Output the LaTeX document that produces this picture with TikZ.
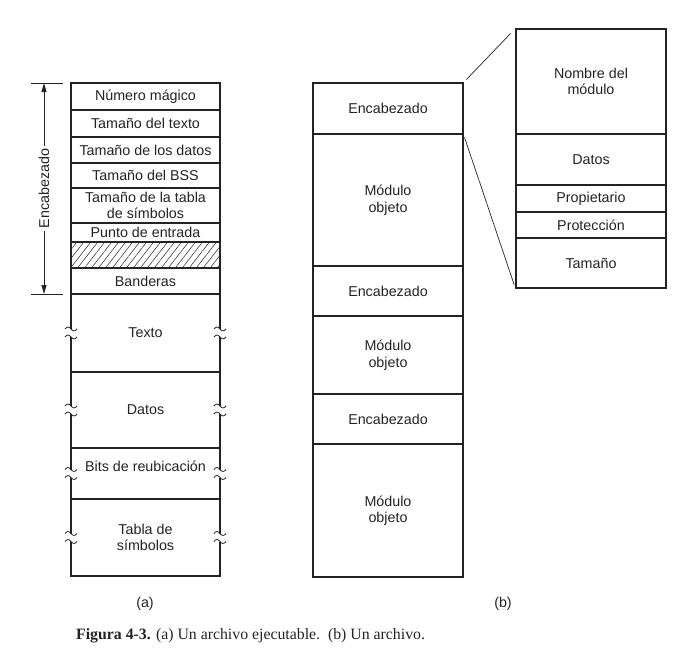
\documentclass[tikz,border=0pt]{standalone}
\usepackage{fontspec}
\newfontfamily\helv{Liberation Sans}
\newfontfamily\tms{Liberation Serif}
\usetikzlibrary{arrows.meta,calc,patterns.meta}
\definecolor{inkgray}{RGB}{35,35,35}
\newcommand{\cellfont}{\helv\fontsize{14.3}{16.5}\selectfont}
\newcommand{\capfont}{\tms\fontsize{15.8}{18}\selectfont}
% break mark (two tildes) cut into a column edge at (#1,#2)
\newcommand{\brkmark}[2]{%
  \fill[white] (#1-2.5,#2-4) rectangle (#1+2.5,#2+4);
  \draw[brk] (#1-6,#2-4) sin (#1-3,#2-6) cos (#1,#2-4) sin (#1+3,#2-2) cos (#1+6,#2-4);
  \draw[brk] (#1-6,#2+4) sin (#1-3,#2+2) cos (#1,#2+4) sin (#1+3,#2+6) cos (#1+6,#2+4);}

\begin{document}
\begin{tikzpicture}[x=1pt, y=-1pt,
    cell/.style={draw=inkgray, line width=1.1pt, inner sep=0pt, align=center, font=\cellfont, text=inkgray},
    colA/.style={cell, minimum width=149},
    colB/.style={cell, minimum width=150},
    brk/.style={inkgray, line width=0.8pt},
    zoomline/.style={inkgray, line width=0.7pt},
    dimarrow/.style={inkgray, line width=0.8pt, {Triangle[length=9pt,width=5pt]}-{Triangle[length=9pt,width=5pt]}},
    tag/.style={font=\cellfont, text=inkgray}]
  \useasboundingbox (0,0) rectangle (682,662);
  % --- (a) executable file ---
  \node[colA, minimum height=27] (numero) at (145.5,96.5) {Número mágico};
  \node[colA, minimum height=27] (tamTexto) at (145.5,123.5) {Tamaño del texto};
  \node[colA, minimum height=26] (tamDatos) at (145.5,150) {Tamaño de los datos};
  \node[colA, minimum height=25] (tamBss) at (145.5,175.5) {Tamaño del BSS};
  \node[colA, minimum height=35] (tamTabla) at (145.5,205.5) {Tamaño de la tabla\\de símbolos};
  \node[colA, minimum height=19] (entrada) at (145.5,232.5) {Punto de entrada};
  \node[colA, minimum height=26, pattern={Lines[angle=52,distance=5.5pt,line width=0.5pt]}, pattern color=inkgray] (relleno) at (145.5,255) {};
  \node[colA, minimum height=26] (banderas) at (145.5,281) {Banderas};
  \node[colA, minimum height=78] (texto) at (145.5,333) {Texto};
  \node[colA, minimum height=76] (datos) at (145.5,410) {Datos};
  \node[colA, minimum height=51] (bits) at (145.5,473.5) {};
  \node[tag] (bitsLbl) at (145.5,466) {Bits de reubicación};
  \node[colA, minimum height=77] (tabla) at (145.5,537.5) {Tabla de\\símbolos};
  % --- break marks on both edges ---
  \foreach \yy in {333,410,473.5,537.5} {
    \brkmark{71}{\yy}
    \brkmark{220}{\yy}
  }
  % --- header span ---
  \coordinate (tickTopL) at (31,83); \coordinate (tickTopR) at (63,83);
  \coordinate (tickBotL) at (31,294); \coordinate (tickBotR) at (63,294);
  \coordinate (hdrTop) at (44,83); \coordinate (hdrBot) at (44,294);
  \draw[zoomline] (tickTopL) -- (tickTopR);
  \draw[zoomline] (tickBotL) -- (tickBotR);
  \draw[dimarrow] (hdrTop) -- node[fill=white, rotate=90, inner sep=3pt, font=\cellfont, text=inkgray] (hdrLbl) {Encabezado} (hdrBot);
  % --- (b) archive ---
  \node[colB, minimum height=51] (encA) at (388,108.5) {Encabezado};
  \node[colB, minimum height=132] (modA) at (388,200) {Módulo\\objeto};
  \node[colB, minimum height=50] (encB) at (388,291) {Encabezado};
  \node[colB, minimum height=78] (modB) at (388,355) {Módulo\\objeto};
  \node[colB, minimum height=50] (encC) at (388,419) {Encabezado};
  \node[colB, minimum height=133] (modC) at (388,510.5) {Módulo\\objeto};
  % --- module header detail ---
  \node[colB, minimum height=105] (nombre) at (591,81.5) {Nombre del\\módulo};
  \node[colB, minimum height=51] (datosMod) at (591,159.5) {Datos};
  \node[colB, minimum height=27] (propietario) at (591,198.5) {Propietario};
  \node[colB, minimum height=26] (proteccion) at (591,225) {Protección};
  \node[colB, minimum height=50] (tamano) at (591,263) {Tamaño};
  \draw[zoomline, shorten <=4pt, shorten >=7pt] (encA.north east) -- (nombre.north west);
  \draw[zoomline, shorten <=3pt, shorten >=4pt] (encA.south east) -- (tamano.south west);
  % --- sub-captions ---
  \node[tag] (tagA) at (145,604) {(a)};
  \node[tag] (tagB) at (503,604) {(b)};
  \node[anchor=west, font=\capfont, text=inkgray, inner sep=0pt] (caption) at (76,636)
    {\textbf{Figura 4-3.} (a) Un archivo ejecutable.\ \ (b) Un archivo.};
\end{tikzpicture}
\end{document}
